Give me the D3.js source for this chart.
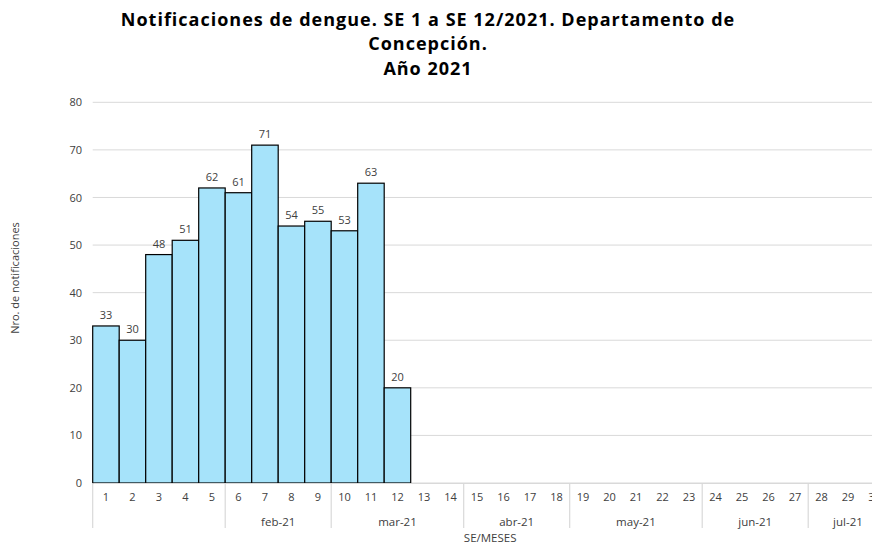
<!DOCTYPE html>
<html>
<head>
<meta charset="utf-8">
<script src="https://cdn.jsdelivr.net/npm/d3@7"></script>
<style>
  body { margin: 0; background: #fff; }
  svg { display: block; font-family: "Open Sans", "Noto Sans", sans-serif; }
</style>
</head>
<body>
<svg width="872" height="547"></svg>
<script>
// weeks shown on the axis (SE)
let weeks = d3.range(1, 31).map(String);
// notifications per week, SE 1..12
let notifWeeks = ["1", "2", "3", "4", "5", "6", "7", "8", "9", "10", "11", "12"];
let notifValues = [33, 30, 48, 51, 62, 61, 71, 54, 55, 53, 63, 20];
// month groups under the week labels
let monthLabels = ["", "feb-21", "mar-21", "abr-21", "may-21", "jun-21", "jul-21"];
let monthFirstWeek = ["1", "6", "10", "15", "19", "24", "28"];
let monthLastWeek = ["5", "9", "14", "18", "23", "27", "30"];
let yTicks = [0, 10, 20, 30, 40, 50, 60, 70, 80];

let title = [
  "Notificaciones de dengue. SE 1 a SE 12/2021. Departamento de",
  "Concepción.",
  "Año 2021"
];

let svg = d3.select("svg");
let gridColor = "#d9d9d9";
let labelColor = "#404040";

let xScale = d3.scaleBand()
  .domain(weeks)
  .range([92.7, 887.7])
  .padding(0);

let yScale = d3.scaleLinear()
  .domain([0, 80])
  .range([483, 102.3]);

// title
svg.append("g")
  .selectAll("text")
  .data(title)
  .enter()
  .append("text")
  .attr("x", 428)
  .attr("y", (d, i) => 25.5 + i * 24.6)
  .attr("text-anchor", "middle")
  .style("font-weight", "bold")
  .style("font-size", "18px")
  .style("letter-spacing", "1px")
  .attr("fill", "#000")
  .text(d => d);

// gridlines
svg.append("g")
  .selectAll("line")
  .data(yTicks)
  .enter()
  .append("line")
  .attr("x1", xScale.range()[0])
  .attr("x2", xScale.range()[1])
  .attr("y1", d => yScale(d))
  .attr("y2", d => yScale(d))
  .attr("stroke", gridColor)
  .attr("stroke-width", 1);

// y axis labels
let yAxis = d3.axisLeft(yScale).tickValues(yTicks).tickSize(0).tickPadding(0);
let yG = svg.append("g")
  .attr("transform", "translate(82,0)")
  .call(yAxis);
yG.select(".domain").remove();
yG.selectAll("text")
  .style("font-family", "'Open Sans', sans-serif")
  .style("font-size", "11px")
  .attr("fill", labelColor);

svg.append("text")
  .attr("transform", "translate(19,278) rotate(-90)")
  .attr("text-anchor", "middle")
  .style("font-size", "11px")
  .attr("fill", labelColor)
  .text("Nro. de notificaciones");

// bars
let bars = notifWeeks.map((w, i) => ({ week: w, value: notifValues[i] }));

svg.append("g")
  .selectAll("rect")
  .data(bars)
  .enter()
  .append("rect")
  .attr("x", d => xScale(d.week))
  .attr("y", d => yScale(d.value))
  .attr("width", xScale.bandwidth())
  .attr("height", d => yScale(0) - yScale(d.value))
  .attr("fill", "#a6e3fa")
  .attr("stroke", "#000")
  .attr("stroke-width", 1.2);

svg.append("g")
  .selectAll("text")
  .data(bars)
  .enter()
  .append("text")
  .attr("x", d => xScale(d.week) + xScale.bandwidth() / 2)
  .attr("y", d => yScale(d.value) - 7)
  .attr("text-anchor", "middle")
  .style("font-size", "11px")
  .attr("fill", labelColor)
  .text(d => d.value);

// x axis: weeks, then month groups
let x0 = yScale(0);
let xAxis = d3.axisBottom(xScale).tickSize(0).tickPadding(10);
let xG = svg.append("g")
  .attr("transform", "translate(0," + x0 + ")")
  .call(xAxis);
xG.select(".domain")
  .attr("stroke", gridColor);
xG.selectAll("text")
  .style("font-family", "'Open Sans', sans-serif")
  .style("font-size", "11px")
  .attr("fill", labelColor);

let months = monthLabels.map((m, i) => ({
  label: m,
  start: xScale(monthFirstWeek[i]),
  end: xScale(monthLastWeek[i]) + xScale.bandwidth()
}));

svg.append("g")
  .selectAll("line")
  .data(months)
  .enter()
  .append("line")
  .attr("x1", d => d.start)
  .attr("x2", d => d.start)
  .attr("y1", x0)
  .attr("y2", x0 + 45)
  .attr("stroke", gridColor)
  .attr("stroke-width", 1.2);

svg.append("g")
  .selectAll("text")
  .data(months)
  .enter()
  .append("text")
  .attr("x", d => (d.start + d.end) / 2)
  .attr("y", x0 + 43)
  .attr("text-anchor", "middle")
  .style("font-size", "11.5px")
  .attr("fill", labelColor)
  .text(d => d.label);

svg.append("text")
  .attr("x", (xScale.range()[0] + xScale.range()[1]) / 2)
  .attr("y", 542)
  .attr("text-anchor", "middle")
  .style("font-size", "11.5px")
  .attr("fill", labelColor)
  .text("SE/MESES");
</script>
</body>
</html>
